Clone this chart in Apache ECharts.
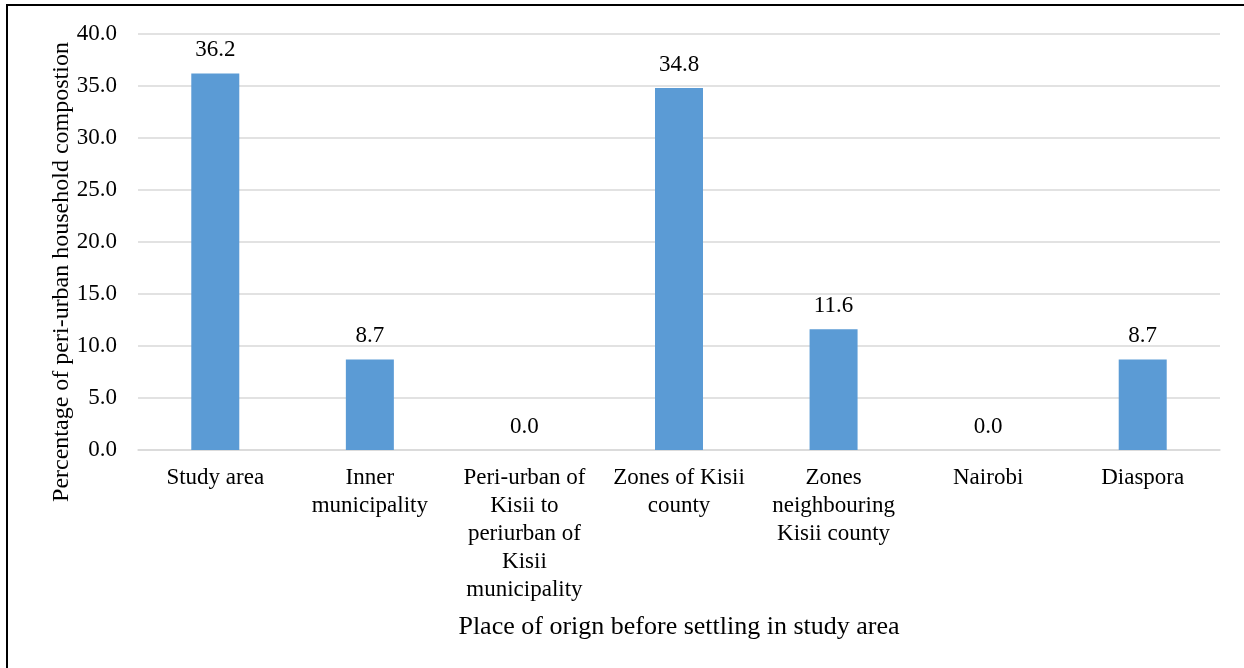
<!DOCTYPE html>
<html>
<head>
<meta charset="utf-8">
<script src="https://cdn.jsdelivr.net/npm/echarts@6/dist/echarts.min.js"></script>
<style>
  html, body { margin: 0; padding: 0; background: #fff; }
  #frame { position: absolute; left: 6px; top: 4px; width: 1300px; height: 700px;
           border-top: 2px solid #000; border-left: 2px solid #000; box-sizing: border-box; }
  #chart { position: absolute; left: 0; top: 0; width: 1244px; height: 668px; }
</style>
</head>
<body>
<div id="frame"></div>
<div id="chart"></div>
<script>
// Place of origin categories (line breaks follow the wrapped axis labels)
const categories = [
  'Study area',
  'Inner\nmunicipality',
  'Peri-urban of\nKisii to\nperiurban of\nKisii\nmunicipality',
  'Zones of Kisii\ncounty',
  'Zones\nneighbouring\nKisii county',
  'Nairobi',
  'Diaspora'
];
// Share of peri-urban households (%)
const shares = [36.2, 8.7, 0.0, 34.8, 11.6, 0.0, 8.7];
// Value axis ticks
const yMin = 0, yMax = 40, yStep = 5;

const serif = "'Liberation Serif', 'Times New Roman', serif";
const chart = echarts.init(document.getElementById('chart'), null, { renderer: 'canvas' });

chart.setOption({
  backgroundColor: 'transparent',
  animation: false,
  grid: { left: 138, right: 24, top: 34, bottom: 218, containLabel: false },
  xAxis: {
    type: 'category',
    data: categories,
    axisTick: { show: false },
    axisLine: { lineStyle: { color: '#d9d9d9', width: 1.5 } },
    axisLabel: { interval: 0, color: '#000', fontFamily: serif, fontSize: 23, lineHeight: 28, margin: 14, align: 'center' },
    name: 'Place of orign before settling in study area',
    nameLocation: 'middle',
    nameGap: 164,
    nameTextStyle: { color: '#000', fontFamily: serif, fontSize: 26 }
  },
  yAxis: {
    type: 'value',
    min: yMin, max: yMax, interval: yStep,
    axisLine: { show: false },
    axisTick: { show: false },
    splitLine: { lineStyle: { color: '#d9d9d9', width: 1.5 } },
    axisLabel: { color: '#000', fontFamily: serif, fontSize: 23, margin: 21,
                 formatter: v => v.toFixed(1) }
  },
  graphic: [{
    type: 'text',
    x: 62, y: 272,
    rotation: Math.PI / 2,
    style: {
      text: 'Percentage of peri-urban household compostion',
      fill: '#000', font: '24px ' + serif,
      align: 'center', verticalAlign: 'middle'
    }
  }],
  series: [{
    type: 'bar',
    data: shares,
    barWidth: 48,
    itemStyle: { color: '#5b9bd5' },
    label: {
      show: true, position: 'top', distance: 12,
      color: '#000', fontFamily: serif, fontSize: 23,
      formatter: p => p.value.toFixed(1)
    }
  }]
});
</script>
</body>
</html>
